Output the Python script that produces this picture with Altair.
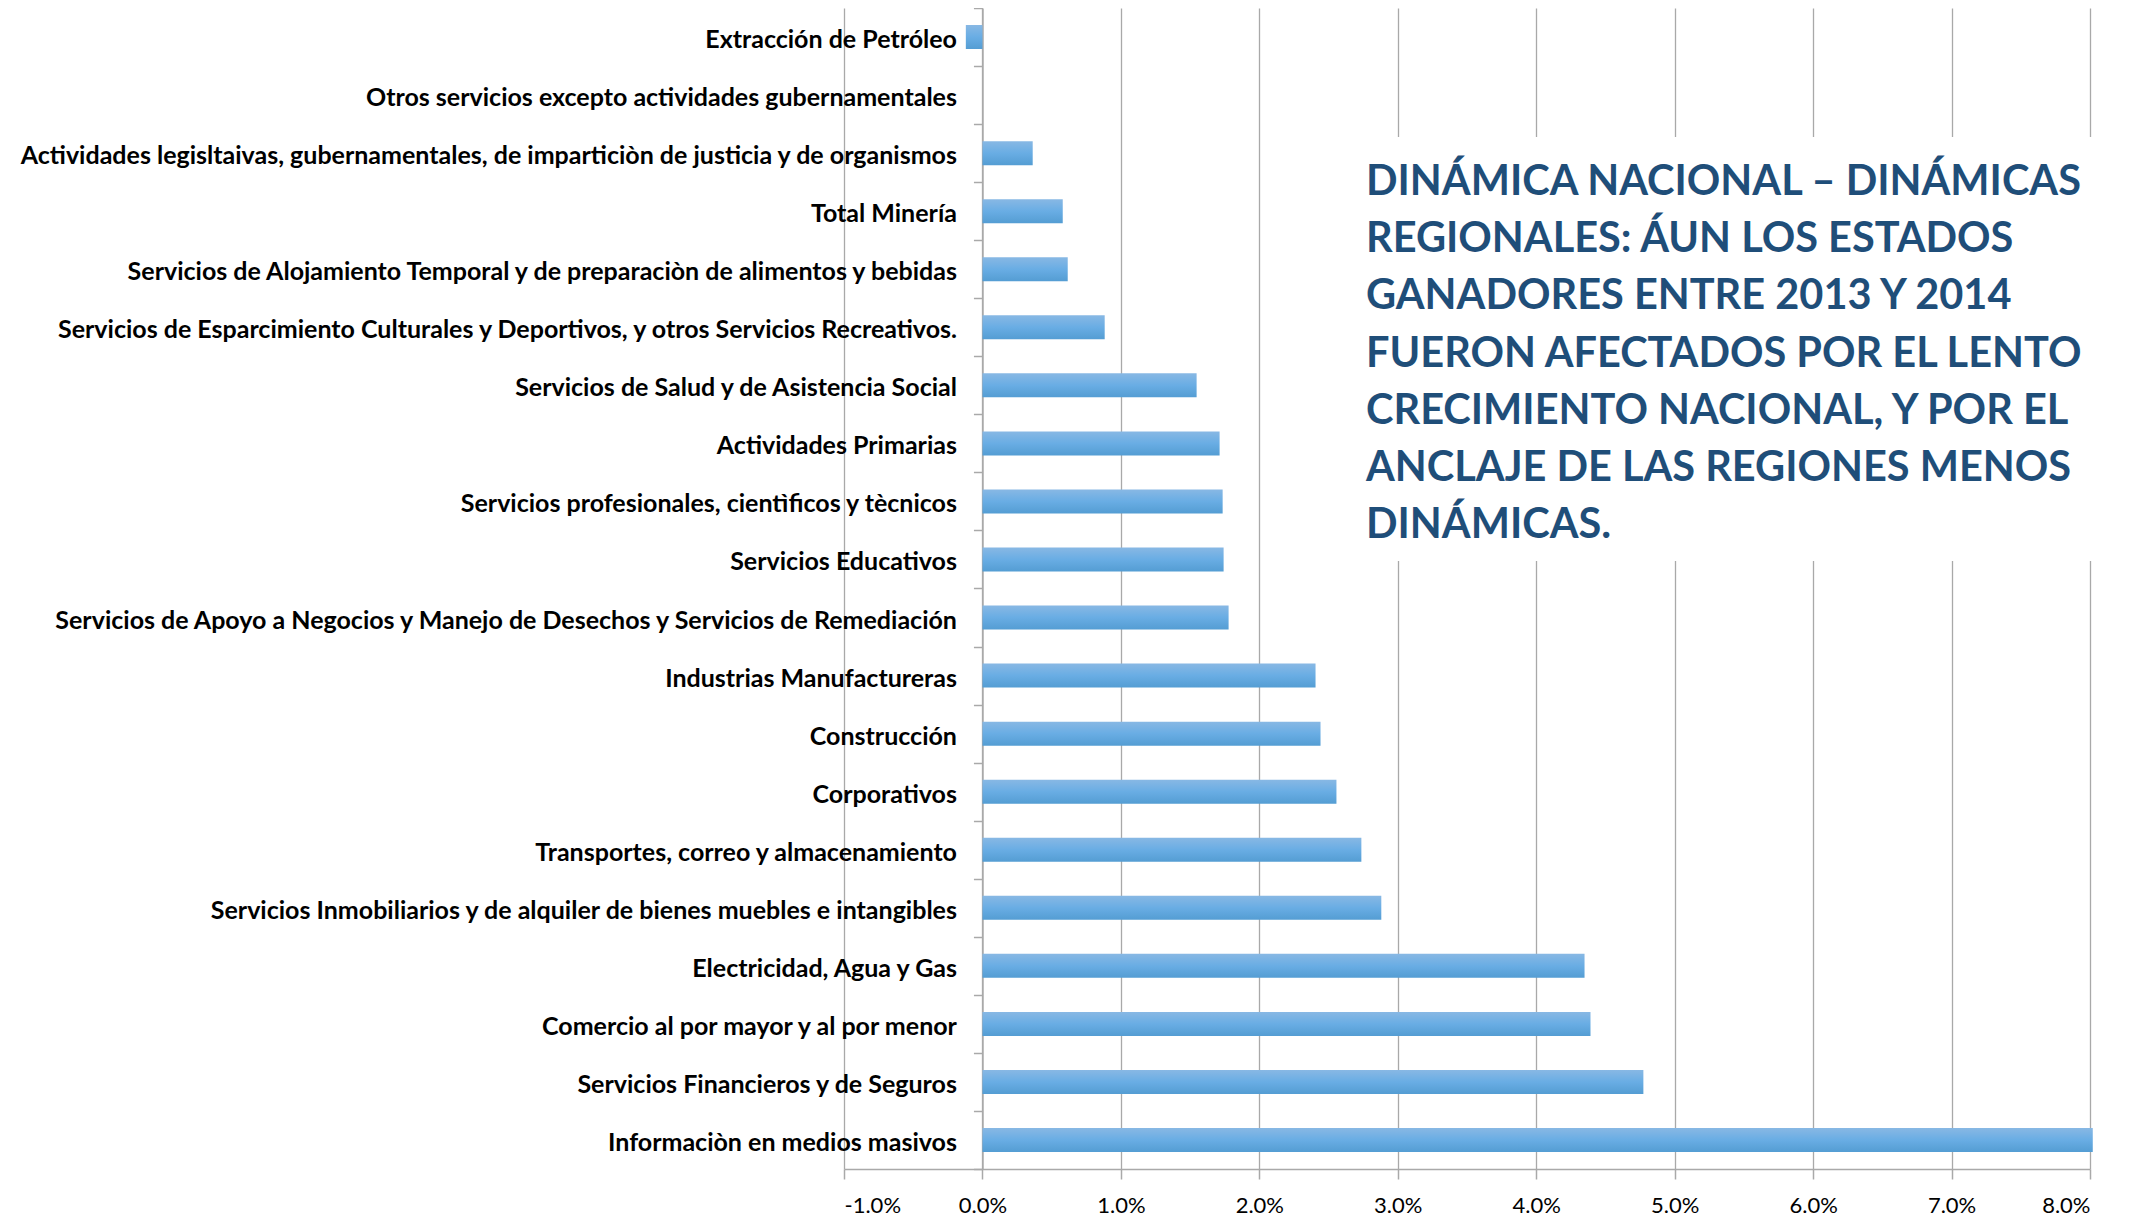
import altair as alt
import pandas as pd

categories = [
    "Extracción de Petróleo",
    "Otros servicios excepto actividades gubernamentales",
    "Actividades legisltaivas, gubernamentales, de imparticiòn de justicia y de organismos",
    "Total Minería",
    "Servicios de Alojamiento Temporal y de preparaciòn de alimentos y bebidas",
    "Servicios de Esparcimiento Culturales y Deportivos, y otros Servicios Recreativos.",
    "Servicios de Salud y de Asistencia Social",
    "Actividades Primarias",
    "Servicios profesionales, cientìficos y tècnicos",
    "Servicios Educativos",
    "Servicios de Apoyo a Negocios y Manejo de Desechos y Servicios de Remediación",
    "Industrias Manufactureras",
    "Construcción",
    "Corporativos",
    "Transportes, correo y almacenamiento",
    "Servicios Inmobiliarios y de alquiler de bienes muebles e intangibles",
    "Electricidad, Agua y Gas",
    "Comercio al por mayor y al por menor",
    "Servicios Financieros y de Seguros",
    "Informaciòn en medios masivos",
]
values = [-0.12, 0.0, 0.363, 0.580, 0.616, 0.883, 1.547, 1.713, 1.735, 1.742,
          1.778, 2.406, 2.442, 2.557, 2.737, 2.881, 4.349, 4.392, 4.774, 8.02]
x_ticks = [-1, 0, 1, 2, 3, 4, 5, 6, 7, 8]
note_lines = [
    "DINÁMICA NACIONAL – DINÁMICAS",
    "REGIONALES: ÁUN LOS ESTADOS",
    "GANADORES ENTRE 2013 Y 2014",
    "FUERON AFECTADOS POR EL LENTO",
    "CRECIMIENTO NACIONAL, Y POR EL",
    "ANCLAJE DE LAS REGIONES MENOS",
    "DINÁMICAS.",
]

W, H = 1246, 1161
XMIN, XMAX = x_ticks[0], x_ticks[-1]
zero_px = (0 - XMIN) / (XMAX - XMIN) * W

df = pd.DataFrame({"sector": categories, "valor": values})

grad = alt.Gradient(
    gradient="linear", x1=0, x2=0, y1=0, y2=1,
    stops=[alt.GradientStop(color="#88b8e4", offset=0),
           alt.GradientStop(color="#69ade4", offset=0.5),
           alt.GradientStop(color="#549dd3", offset=1)],
)

bars = alt.Chart(df).mark_bar(color=grad, size=24).encode(
    x=alt.X("valor:Q",
            scale=alt.Scale(domain=[XMIN, XMAX], nice=False, zero=False),
            axis=alt.Axis(values=x_ticks, title=None,
                          labelExpr="(datum.value < 0 ? '-' : '') + format(abs(datum.value)/100, '.1%')",
                          grid=True, gridColor="#a9a9a9", gridWidth=1.3,
                          domainColor="#a9a9a9", domainWidth=1.5,
                          tickColor="#a9a9a9", tickWidth=1.5, tickSize=10,
                          labelFont="Lato", labelFontSize=22, labelColor="#000000",
                          labelPadding=16)),
    y=alt.Y("sector:N", sort=categories,
            scale=alt.Scale(paddingInner=0, paddingOuter=0),
            axis=alt.Axis(title=None, offset=-zero_px, grid=False,
                          tickBand="extent", domainColor="#a9a9a9", domainWidth=1.5,
                          tickColor="#a9a9a9", tickWidth=1.5, tickSize=9,
                          labelFont="Lato", labelFontWeight="bold", labelFontSize=25,
                          labelColor="#000000", labelPadding=17, labelOffset=2.5,
                          labelLimit=1200)),
)

box = alt.Chart(pd.DataFrame({"k": [0]})).mark_rect(color="white").encode(
    x=alt.value(490), x2=alt.value(1300), y=alt.value(129), y2=alt.value(553)
)

note = alt.Chart(pd.DataFrame({"t": ["\n".join(note_lines)]})).mark_text(
    align="left", baseline="alphabetic", lineBreak="\n", lineHeight=57.2,
    font="Lato", fontWeight="bold", fontSize=41.5, color="#1F4E79"
).encode(x=alt.value(522), y=alt.value(187), text="t:N")

chart = alt.layer(bars, box, note).properties(
    width=W, height=H,
    autosize=alt.AutoSizeParams(type="none"),
    padding={"left": 836, "top": 0, "right": 44, "bottom": 49},
    background="white",
).configure_view(stroke=None)

chart.save("out.html", embed_options={"renderer": "svg", "actions": False})
